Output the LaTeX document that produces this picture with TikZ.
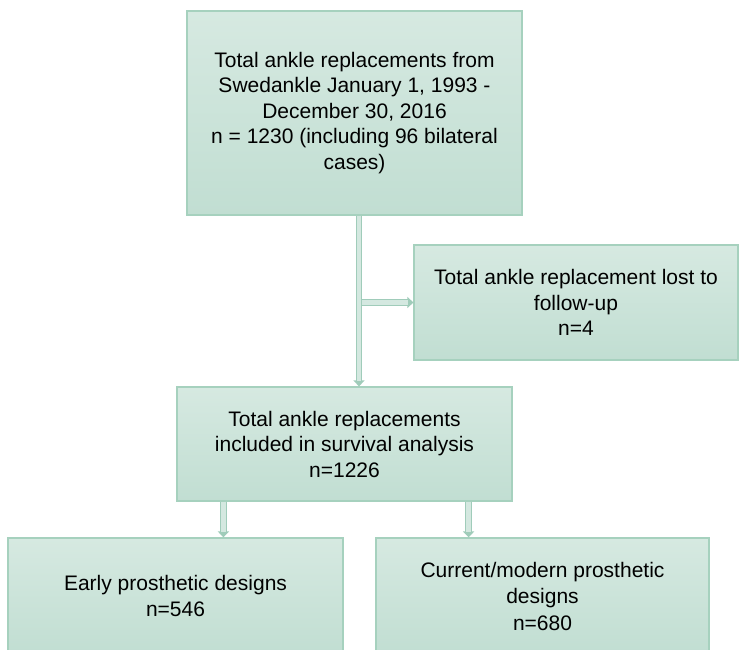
\documentclass[tikz,border=0pt]{standalone}
\usepackage{fontspec}
\setmainfont{Liberation Sans}
\usepackage{xcolor}
\usetikzlibrary{arrows.meta}

\definecolor{boxtop}{RGB}{214,233,225}
\definecolor{boxbot}{RGB}{193,222,210}
\definecolor{boxline}{RGB}{166,209,190}
\definecolor{flowfill}{RGB}{212,232,224}
\definecolor{flowline}{RGB}{160,204,186}

\begin{document}
\begin{tikzpicture}[x=1bp,y=-1bp]
\tikzset{every node/.style={font=\fontsize{21bp}{25.5bp}\selectfont}}
\tikzset{stage/.style={draw=boxline,line width=1.2bp,top color=boxtop,bottom color=boxbot,align=center,inner sep=0pt}}
\tikzset{design/.style={stage,font=\fontsize{21bp}{26.5bp}\selectfont}}
\tikzset{flow/.style={draw=flowline,line width=6.5bp,-{Triangle[length=6bp,width=11bp]},postaction={draw=flowfill,line width=4.5bp,shorten >=5bp,-}}}

\useasboundingbox (0,0) rectangle (739,650);

\node[stage,minimum width=335bp,minimum height=204bp] (total) at (354.5,113) {Total ankle replacements from\\Swedankle January 1, 1993 -\\December 30, 2016\\n = 1230 (including 96 bilateral\\cases)};
\node[stage,minimum width=324bp,minimum height=115bp] (lost) at (576,302.5) {Total ankle replacement lost to\\follow-up\\n=4};
\node[stage,minimum width=335bp,minimum height=114bp] (incl) at (344.5,444) {Total ankle replacements\\included in survival analysis\\n=1226};
\node[design,minimum width=335bp,minimum height=116bp] (early) at (175.5,596) {Early prosthetic designs\\n=546};
\node[design,minimum width=333bp,minimum height=116bp] (modern) at (542.5,596) {Current/modern prosthetic\\designs\\n=680};

\coordinate (trunk) at ([xshift=4.5bp]total.south);
\coordinate (leftfoot) at ([xshift=47bp]incl.south west);
\coordinate (rightfoot) at ([xshift=-44bp]incl.south east);

\draw[flow] (trunk |- lost.west) -- (lost.west);
\draw[flow] (trunk) -- (trunk |- incl.north);
\draw[flow] (leftfoot) -- (leftfoot |- early.north);
\draw[flow] (rightfoot) -- (rightfoot |- modern.north);

\end{tikzpicture}
\end{document}
